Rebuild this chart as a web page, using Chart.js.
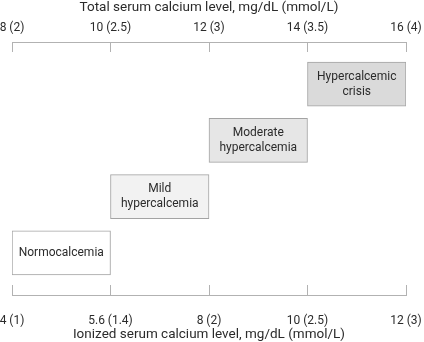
<!DOCTYPE html>
<html>
<head>
<meta charset="utf-8">
<script src="https://cdn.jsdelivr.net/npm/chart.js@4/dist/chart.umd.min.js"></script>
<style>
  html, body { margin: 0; padding: 0; background: #ffffff; }
  #wrap { width: 424px; height: 342px; }
</style>
</head>
<body>
<div id="wrap"><canvas id="c" width="424" height="342"></canvas></div>
<script>
// Stages of hypercalcemia, top row first
const stages = ['Hypercalcemic crisis', 'Moderate hypercalcemia', 'Mild hypercalcemia', 'Normocalcemia'];
const stageLines = [['Hypercalcemic', 'crisis'], ['Moderate', 'hypercalcemia'], ['Mild', 'hypercalcemia'], ['Normocalcemia']];
// Total serum calcium range of each stage, mg/dL
const totalLow = [14, 12, 10, 8];
const totalHigh = [16, 14, 12, 10];
// Axis tick values and their labels
const tickValues = [8, 10, 12, 14, 16];
const totalTicks = ['8 (2)', '10 (2.5)', '12 (3)', '14 (3.5)', '16 (4)'];
const ionizedTicks = ['4 (1)', '5.6 (1.4)', '8 (2)', '10 (2.5)', '12 (3)'];
const fills = ['#dadada', '#e6e6e6', '#f2f2f2', '#ffffff'];

const FONT = 'Roboto, "Liberation Sans", Arial, sans-serif';
const axisColor = '#b2b2b2';
const textColor = '#2b2b2b';

const barData = stages.map((s, i) => ({ x: [totalLow[i], totalHigh[i]], y: i }));

// Writes each stage name centred inside its box
const boxLabels = {
  id: 'boxLabels',
  afterDatasetsDraw(chart) {
    const ctx = chart.ctx;
    const meta = chart.getDatasetMeta(0);
    ctx.save();
    ctx.font = '12px ' + FONT;
    ctx.fillStyle = textColor;
    ctx.textAlign = 'center';
    ctx.textBaseline = 'middle';
    const lh = 15;
    meta.data.forEach((bar, i) => {
      const cx = (bar.x + bar.base) / 2;
      const lines = stageLines[i];
      const y0 = bar.y - (lines.length - 1) * lh / 2;
      lines.forEach((t, k) => ctx.fillText(t, cx, y0 + k * lh));
    });
    ctx.restore();
  }
};

function xAxis(position, labels, title, height, tickPad, titleLineHeight) {
  return {
    type: 'linear',
    position: position,
    min: 8,
    max: 16,
    afterBuildTicks: scale => { scale.ticks = tickValues.map(v => ({ value: v })); },
    afterFit: scale => {
      scale.height = height;
      scale.paddingLeft = 0;
      scale.paddingRight = 0;
    },
    ticks: {
      padding: tickPad,
      maxRotation: 0,
      autoSkip: false,
      color: textColor,
      font: { family: FONT, size: 12 },
      callback: (v) => labels[tickValues.indexOf(v)]
    },
    grid: {
      drawOnChartArea: false,
      drawTicks: true,
      tickLength: -10,
      color: axisColor,
      lineWidth: 1
    },
    border: { display: true, color: axisColor, width: 1 },
    title: {
      display: true,
      text: title,
      color: textColor,
      font: { family: FONT, size: 13.5, lineHeight: titleLineHeight },
      padding: { top: 0, bottom: 0 }
    }
  };
}

new Chart(document.getElementById('c'), {
  type: 'bar',
  data: {
    datasets: [{
      data: barData,
      backgroundColor: fills,
      borderColor: '#a3a3a3',
      borderWidth: 1,
      borderSkipped: false,
      barThickness: 44,
      xAxisID: 'x',
      yAxisID: 'y'
    }]
  },
  options: {
    indexAxis: 'y',
    responsive: false,
    animation: false,
    devicePixelRatio: 1,
    layout: { padding: { left: 12, right: 18, top: 0, bottom: 0 } },
    plugins: { legend: { display: false }, tooltip: { enabled: false } },
    scales: {
      x: xAxis('top', totalTicks, 'Total serum calcium level, mg/dL (mmol/L)', 42, 17, 1.2),
      x2: xAxis('bottom', ionizedTicks, 'Ionized serum calcium level, mg/dL (mmol/L)', 47, 29, 1.05),
      y: {
        type: 'linear',
        display: false,
        reverse: true,
        offset: false,
        min: -0.75,
        max: 3.75
      }
    }
  },
  plugins: [boxLabels]
});
</script>
</body>
</html>
